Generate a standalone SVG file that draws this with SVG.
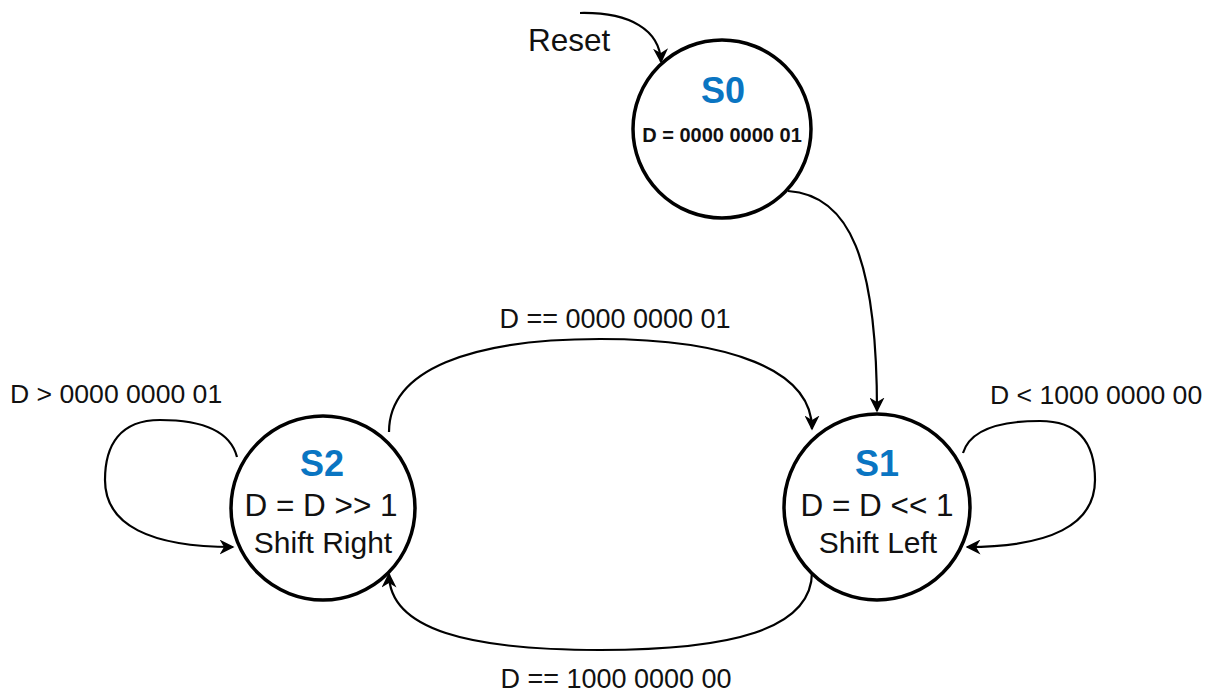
<svg xmlns="http://www.w3.org/2000/svg" width="1213" height="692" viewBox="0 0 1213 692">
<style>
.st{fill:#fff;stroke:#000;stroke-width:3.5}
.e{fill:none;stroke:#000;stroke-width:2.2;marker-end:url(#ah)}
.t{font-family:"Liberation Sans",Arial,sans-serif;fill:#111}
.n{font-family:"Liberation Sans",Arial,sans-serif;font-weight:bold;fill:#0a75c2;text-anchor:middle}
.c{text-anchor:middle}
</style>
<defs>
<marker id="ah" viewBox="0 0 10 10" refX="9" refY="5" markerWidth="15" markerHeight="15" markerUnits="userSpaceOnUse" orient="auto">
<path d="M0,0 L10,5 L0,10 L3,5 z" fill="#000"/>
</marker>
</defs>
<rect width="1213" height="692" fill="#fff"/>
<g id="connectors">
<path class="e" d="M580 13 C630 12 660 30 661 62"/>
<path class="e" d="M788 191 C850 195 877 260 877 411"/>
<path class="e" d="M389 432 C389 370 470 339 600 339 C730 339 812 370 812 429"/>
<path class="e" d="M812 572 C812 630 730 650 600 650 C470 650 389 630 389 574"/>
<path class="e" d="M237 457 C230 430 200 420 160 420 C120 420 105 445 105 480 C105 525 150 547 233 547"/>
<path class="e" d="M963 453 C970 430 1000 421 1040 421 C1080 421 1095 445 1095 480 C1095 525 1050 547 967 547"/>
</g>
<g id="edge-labels">
<text class="t" x="528" y="51" font-size="31.5">Reset</text>
<text class="t c" x="615" y="328" font-size="27">D == 0000 0000 01</text>
<text class="t c" x="616" y="688" font-size="27">D == 1000 0000 00</text>
<text class="t" x="10" y="403" font-size="26.6">D &gt; 0000 0000 01</text>
<text class="t" x="990" y="404" font-size="26.6">D &lt; 1000 0000 00</text>
</g>
<g id="S0">
<circle class="st" cx="722" cy="129" r="89"/>
<text class="n" x="723" y="103" font-size="36">S0</text>
<text class="t c" x="722" y="142" font-size="20" font-weight="bold">D = 0000 0000 01</text>
</g>
<g id="S2">
<circle class="st" cx="323" cy="508" r="92"/>
<text class="n" x="322" y="476" font-size="36">S2</text>
<text class="t c" x="321" y="516" font-size="31.5">D = D &gt;&gt; 1</text>
<text class="t c" x="323" y="553" font-size="30">Shift Right</text>
</g>
<g id="S1">
<circle class="st" cx="877" cy="507" r="93"/>
<text class="n" x="877" y="476" font-size="36">S1</text>
<text class="t c" x="877" y="516" font-size="31.5">D = D &lt;&lt; 1</text>
<text class="t c" x="878" y="553" font-size="30">Shift Left</text>
</g>
</svg>
